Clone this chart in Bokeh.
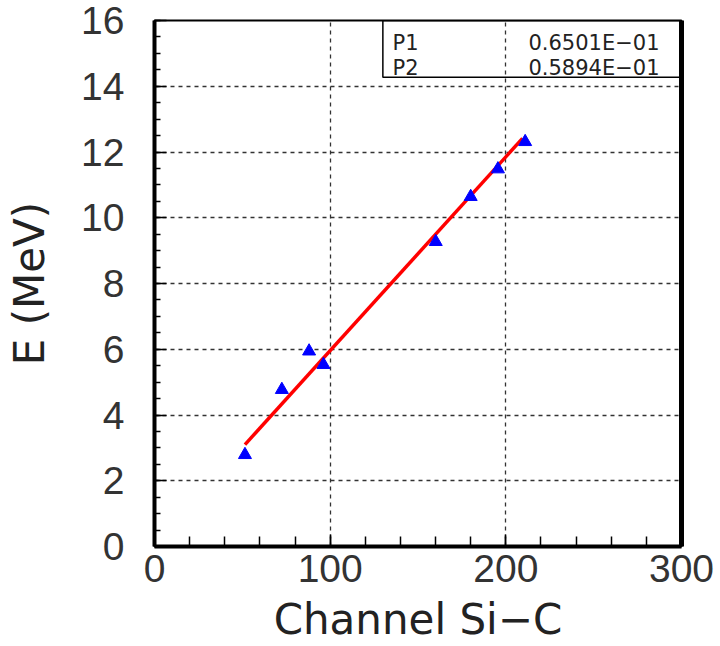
import numpy as np
from bokeh.plotting import figure
from bokeh.models import LinearAxis, FixedTicker, Range1d, ColumnDataSource
from bokeh.embed import file_html
from bokeh.resources import INLINE
from bokeh.core.properties import value

# Calibration points: ADC channel of the Si-C detector vs deposited energy
channel = [51.5, 72.5, 88.0, 96.2, 160.1, 180.0, 195.5, 211.0]
energy_mev = [2.79, 4.77, 5.94, 5.53, 9.27, 10.64, 11.48, 12.31]

# Linear fit E = P1 + P2 * channel
p1 = 0.6501e-01
p2 = 0.5894e-01
fit_range = [51.5, 209.5]
fit_labels = ["P1", "P2"]
fit_values = ["0.6501E\u221201", "0.5894E\u221201"]

x_ticks = [0, 100, 200, 300]
y_ticks = [0, 2, 4, 6, 8, 10, 12, 14, 16]

TICK_FONT = "Liberation Sans"
LABEL_FONT = "DejaVu Sans"

p = figure(width=720, height=646, output_backend="svg", toolbar_location=None,
           x_range=Range1d(0, 300), y_range=Range1d(0, 16),
           min_border_left=154, min_border_right=39, min_border_top=20,
           min_border_bottom=98, x_axis_label="Channel Si\u2212C",
           y_axis_label="E (MeV)")
p.background_fill_color = "white"
p.border_fill_color = "white"
p.outline_line_color = "black"
p.outline_line_width = 2

# dashed grid at the major ticks
for g in (p.xgrid, p.ygrid):
    g.grid_line_color = "#333333"
    g.grid_line_dash = "4 4"
    g.grid_line_width = 1.3
p.xgrid.ticker = FixedTicker(ticks=[100, 200])
p.ygrid.ticker = FixedTicker(ticks=[2, 4, 6, 8, 10, 12, 14])

xa = p.xaxis[0]
xa.ticker = FixedTicker(ticks=x_ticks, minor_ticks=list(range(0, 301, 20)))
ya = p.yaxis[0]
ya.ticker = FixedTicker(ticks=y_ticks, minor_ticks=[i * 0.5 for i in range(33)])

for ax in (xa, ya):
    ax.axis_line_width = 4
    ax.axis_line_color = "black"
    ax.major_tick_out = 0
    ax.minor_tick_out = 0
    ax.major_tick_line_color = "black"
    ax.minor_tick_line_color = "black"
    ax.major_tick_line_width = 1.5
    ax.minor_tick_line_width = 1.5
    ax.major_label_text_font = TICK_FONT
    ax.major_label_text_font_size = "39px"
    ax.major_label_text_color = "#333333"
    ax.axis_label_text_font = LABEL_FONT
    ax.axis_label_text_font_size = "42px"
    ax.axis_label_text_font_style = "normal"
    ax.axis_label_text_color = "#222222"

xa.major_tick_in = 12
xa.minor_tick_in = 10
xa.major_label_standoff = 8
xa.axis_label_standoff = 10

ya.major_tick_in = 12
ya.minor_tick_in = 6
ya.major_label_standoff = 30
ya.axis_label_standoff = 24

# heavier right edge of the frame
right = LinearAxis(ticker=FixedTicker(ticks=[]), major_label_text_font_size="0px",
                   axis_line_width=5, axis_line_color="black",
                   major_tick_line_color=None, minor_tick_line_color=None)
p.add_layout(right, "right")

# fit line
fx = np.array(fit_range)
p.line(fx, p1 + p2 * fx, line_color="red", line_width=3.5)

# data points
src = ColumnDataSource(dict(x=channel, y=energy_mev))
p.scatter("x", "y", source=src, marker="triangle", size=13,
          fill_color="blue", line_color="blue")

# fit parameter box in the upper right corner
box_left, box_bottom = 130.0, 14.27
p.quad(left=[box_left], right=[300], bottom=[box_bottom], top=[16],
       fill_color=None, line_color="black", line_width=1.5)
row_y = [15.33, 14.57]
p.text(x=[135.5, 135.5], y=row_y, text=fit_labels,
       text_font=value(LABEL_FONT), text_font_size="21px",
       text_color="#222222", text_baseline="alphabetic", text_align="left")
p.text(x=[287.5, 287.5], y=row_y, text=fit_values,
       text_font=value(LABEL_FONT), text_font_size="21px",
       text_color="#222222", text_baseline="alphabetic", text_align="right")

open("out.html", "w").write(file_html(p, INLINE))
